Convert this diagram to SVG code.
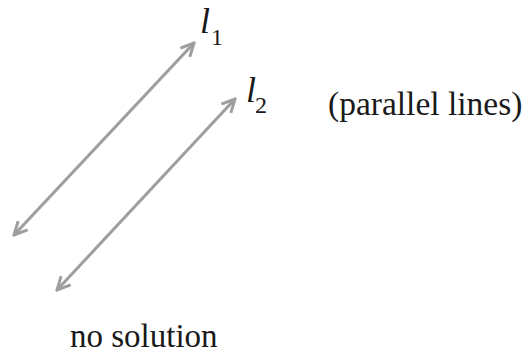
<svg xmlns="http://www.w3.org/2000/svg" width="528" height="355" viewBox="0 0 528 355">
  <style>
    .ln { stroke: #9e9e9e; stroke-width: 3; fill: none; }
    .t { font-family: "Liberation Serif", "Times New Roman", serif; fill: #1a1a1a; }
    .it { font-style: italic; }
  </style>
  <defs>
    <marker id="ah" markerUnits="userSpaceOnUse" viewBox="0 0 16 16" markerWidth="16" markerHeight="16" refX="14" refY="8" orient="auto-start-reverse">
      <path d="M1,1.5 L14,8 L1,14.5" fill="none" stroke="#9e9e9e" stroke-width="3" stroke-linejoin="miter"/>
    </marker>
  </defs>
  <rect width="528" height="355" fill="#ffffff"/>
  <g id="connectors">
    <line id="line1" class="ln" x1="14" y1="235" x2="194" y2="43" marker-start="url(#ah)" marker-end="url(#ah)"/>
    <line id="line2" class="ln" x1="57" y1="290" x2="235" y2="99" marker-start="url(#ah)" marker-end="url(#ah)"/>
  </g>
  <g id="label-l1">
    <text class="t it" x="200" y="33" font-size="36">l</text>
    <text class="t" x="211" y="45" font-size="24">1</text>
  </g>
  <g id="label-l2">
    <text class="t it" x="246" y="102" font-size="36">l</text>
    <text class="t" x="255" y="113" font-size="24">2</text>
  </g>
  <g id="label-parallel">
    <text class="t" x="328" y="115" font-size="33.5">(parallel lines)</text>
  </g>
  <g id="label-nosolution">
    <text class="t" x="70" y="347" font-size="33">no solution</text>
  </g>
</svg>
